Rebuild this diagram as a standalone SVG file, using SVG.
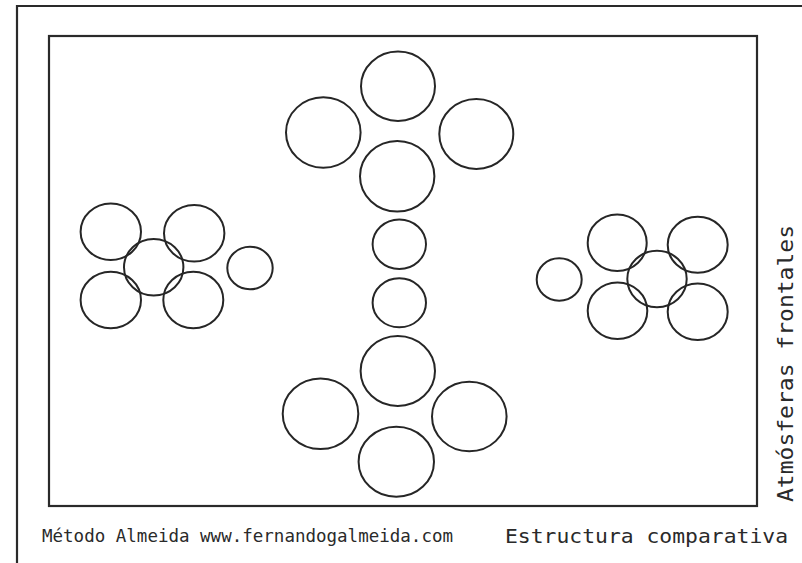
<svg xmlns="http://www.w3.org/2000/svg" width="802" height="563" viewBox="0 0 802 563">
<style>
.c{fill:none;stroke:#262626;stroke-width:2}
.frame{fill:none;stroke:#2a2a2a;stroke-width:2.2}
.t{font-family:"DejaVu Sans Mono","Liberation Mono",monospace;fill:#2a2a2a}
</style>
<rect width="802" height="563" fill="#ffffff"/>
<path class="frame" d="M17,563 V6 H802"/>
<rect class="frame" x="49" y="36" width="708" height="470"/>
<g id="top-cluster">
<ellipse id="n-top-1" class="c" cx="398" cy="86.3" rx="37" ry="34.7"/>
<ellipse id="n-top-2" class="c" cx="323.3" cy="132.5" rx="37.3" ry="35.2"/>
<ellipse id="n-top-3" class="c" cx="476.3" cy="134" rx="37" ry="35"/>
<ellipse id="n-top-4" class="c" cx="397.2" cy="176.3" rx="37.2" ry="35.3"/>
</g>
<g id="stem">
<ellipse id="n-stem-1" class="c" cx="399.3" cy="244.2" rx="26.7" ry="24.8"/>
<ellipse id="n-stem-2" class="c" cx="399.3" cy="302.8" rx="26.7" ry="24.5"/>
</g>
<g id="bottom-cluster">
<ellipse id="n-bot-1" class="c" cx="397.8" cy="371" rx="37.2" ry="35"/>
<ellipse id="n-bot-2" class="c" cx="320.5" cy="413.7" rx="37.8" ry="35.3"/>
<ellipse id="n-bot-3" class="c" cx="469.3" cy="416.5" rx="37.3" ry="34.8"/>
<ellipse id="n-bot-4" class="c" cx="396.3" cy="461.7" rx="37.7" ry="35"/>
</g>
<g id="left-cluster">
<ellipse id="n-left-tl" class="c" cx="110.8" cy="231.7" rx="30.2" ry="28.3"/>
<ellipse id="n-left-tr" class="c" cx="194.2" cy="233.3" rx="30.2" ry="28.3"/>
<ellipse id="n-left-c" class="c" cx="153.7" cy="267.3" rx="29.7" ry="28.3"/>
<ellipse id="n-left-bl" class="c" cx="110.8" cy="300" rx="30.2" ry="28.3"/>
<ellipse id="n-left-br" class="c" cx="193.3" cy="300" rx="30" ry="28.3"/>
<ellipse id="n-left-s" class="c" cx="250" cy="268" rx="22.7" ry="21.3"/>
</g>
<g id="right-cluster">
<ellipse id="n-right-s" class="c" cx="559.2" cy="279.5" rx="22.5" ry="21.2"/>
<ellipse id="n-right-tl" class="c" cx="617.2" cy="242.7" rx="29.5" ry="28.3"/>
<ellipse id="n-right-tr" class="c" cx="697.7" cy="244.7" rx="30" ry="28"/>
<ellipse id="n-right-c" class="c" cx="657" cy="279" rx="29.7" ry="28.3"/>
<ellipse id="n-right-bl" class="c" cx="617.5" cy="310.7" rx="29.8" ry="28.3"/>
<ellipse id="n-right-br" class="c" cx="697.7" cy="311.7" rx="30" ry="28.3"/>
</g>
<g id="connectors"/>
<g id="labels">
<text class="t" x="42" y="542" font-size="17.5" textLength="411" lengthAdjust="spacingAndGlyphs">Método Almeida www.fernandogalmeida.com</text>
<text class="t" x="505" y="543" font-size="19.5" textLength="283" lengthAdjust="spacingAndGlyphs">Estructura comparativa</text>
<text class="t" transform="translate(793,502) rotate(-90)" x="0" y="0" font-size="20.5" textLength="277" lengthAdjust="spacingAndGlyphs">Atmósferas frontales</text>
</g>
</svg>
